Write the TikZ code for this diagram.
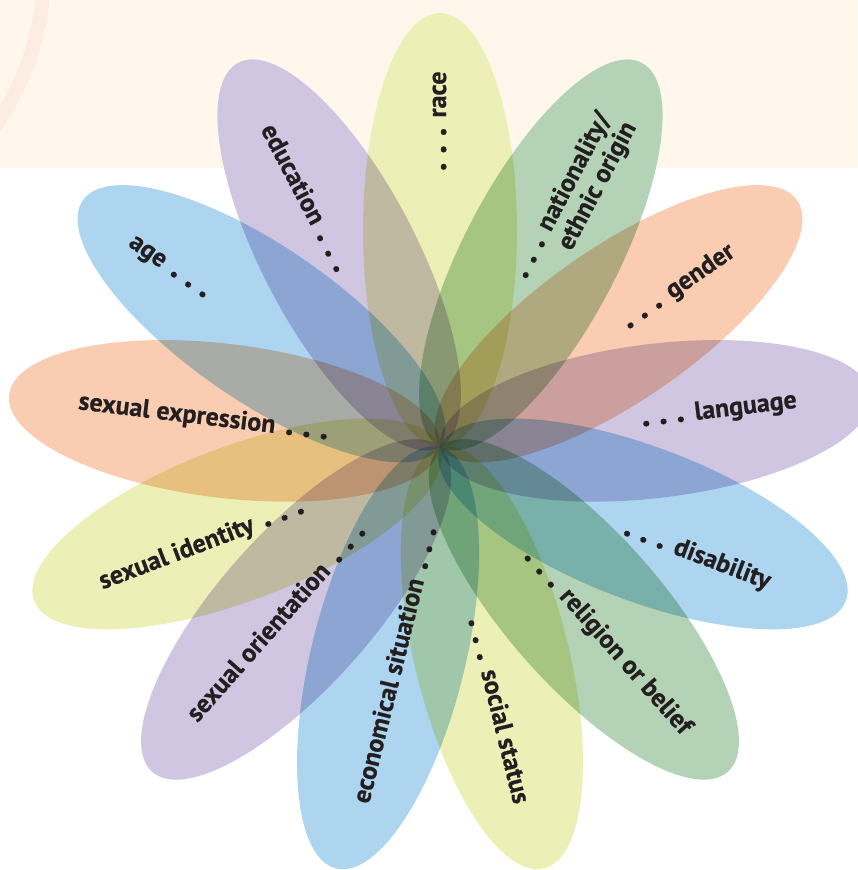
\documentclass[tikz,border=0pt]{standalone}
\usepackage{fontspec}
\setmainfont{PT Sans}[BoldFeatures={FakeBold=0.6}]
\definecolor{cream}{HTML}{FFF7EC}
\definecolor{arcc}{HTML}{FDECE2}
\definecolor{yel}{HTML}{ECEFB6}
\definecolor{grn}{HTML}{B4D3B6}
\definecolor{pch}{HTML}{FACDB3}
\definecolor{lav}{HTML}{D0C6E2}
\definecolor{blu}{HTML}{ADD5EF}
\definecolor{ink}{HTML}{231F20}
\newcommand\dd{\makebox[0.67em]{\fontsize{36}{36}\selectfont.}}
\newcommand\rdts{\hspace*{-0.335em}\dd\dd\dd\hspace{0.22em}}
\newcommand\ldts{\hspace{0.22em}\dd\dd\dd\hspace*{-0.335em}}
\begin{document}
\begin{tikzpicture}[x=1pt,y=-1pt,
  petal/.style={blend mode=multiply},
  lab/.style={font=\bfseries\fontsize{26}{27}\selectfont, text=ink, inner sep=0pt},
  rlab/.style={lab, anchor=base west},
  llab/.style={lab, anchor=base east}]
\useasboundingbox (0,0) rectangle (857,870);
\fill[cream] (0,0) rectangle (857,168);
\draw[arcc, line width=14pt] (-230,-30) circle [radius=274];
\begin{scope}[transparency group]
\foreach \a/\c in {90/yel, 62.31/grn, 34.62/pch, 6.92/lav, -20.77/blu, -48.46/grn,
  -76.15/yel, -103.85/blu, -131.54/lav, -159.23/yel, 173.08/pch, 145.38/blu, 117.69/lav}
  \fill[petal, fill=\c, shift={(440,447)}, rotate=\a] (217,0) ellipse [x radius=217, y radius=77];
\end{scope}
\node[rlab, rotate=90] (race) at (446,167) {\rdts race};
\node[rlab, rotate=62.31] (nat) at (527.7,276.4) {\rdts nationality/};
\node[rlab, rotate=62.31] (eth) at (571.1,251.8) {ethnic origin};
\node[rlab, rotate=34.62] (gen) at (631.7,327.5) {\rdts gender};
\node[rlab, rotate=6.92] (lang) at (646.4,426) {\rdts language};
\node[rlab, rotate=-20.77] (dis) at (626,535.8) {\rdts disability};
\node[rlab, rotate=-48.46] (rel) at (525.8,560) {\rdts religion or belief};
\node[rlab, rotate=-76.15] (soc) at (469.1,623.7) {\rdts social status};
\node[llab, rotate=76.15] (eco) at (435.9,532.7) {economical situation\ldts};
\node[llab, rotate=48.46] (ori) at (364.2,535) {sexual orientation\ldts};
\node[llab, rotate=20.77] (ide) at (302,513.8) {sexual identity\ldts};
\node[llab, rotate=-6.92] (expr) at (323.6,439) {sexual expression\ldts};
\node[llab, rotate=-34.62] (age) at (201.3,296.5) {age\ldts};
\node[llab, rotate=-62.31] (edu) at (334.3,270.4) {education\ldts};
\end{tikzpicture}
\end{document}
